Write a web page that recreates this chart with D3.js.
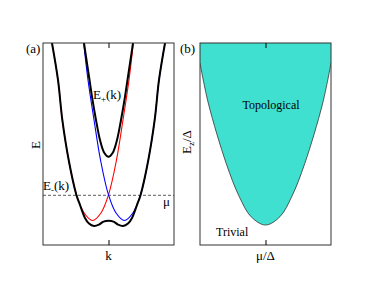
<!DOCTYPE html>
<html>
<head>
<meta charset="utf-8">
<script src="https://cdn.jsdelivr.net/npm/d3@7"></script>
<style>
  body { margin: 0; background: #fff; }
  text { font-family: "Liberation Serif", "DejaVu Serif", serif; fill: #000; }
</style>
</head>
<body>
<div class="chart"></div>
<script>
// panel (a): band dispersion (k, E)
var redBand = [[-0.863,10.0],[-0.771,8.17],[-0.705,6.19],[-0.608,4.21],[-0.489,2.48],
  [-0.369,1.57],[-0.244,1.21],[-0.118,1.57],[0,2.48],[0.122,4.21],[0.221,6.19],[0.313,8.17],[0.379,10.0]];
var blueBand = [[-0.379,10.0],[-0.313,8.17],[-0.221,6.19],[-0.122,4.21],[0,2.48],
  [0.118,1.57],[0.244,1.21],[0.369,1.57],[0.489,2.48],[0.608,4.21],[0.705,6.19],[0.771,8.17],[0.863,10.0]];
var lowerBand = [[-0.863,10.0],[-0.771,8.17],[-0.705,6.19],[-0.608,4.21],[-0.49,2.48],[-0.435,1.98],
  [-0.359,1.34],[-0.298,1.06],[-0.221,0.94],[-0.145,1.01],[-0.076,1.16],[0,1.20],
  [0.076,1.16],[0.145,1.01],[0.221,0.94],[0.298,1.06],[0.359,1.34],[0.435,1.98],[0.49,2.48],
  [0.608,4.21],[0.705,6.19],[0.771,8.17],[0.863,10.0]];
var upperBand = [[-0.374,10.0],[-0.336,9.16],[-0.290,8.17],[-0.244,7.18],[-0.191,6.19],[-0.130,5.20],
  [-0.065,4.57],[0,4.37],[0.065,4.57],[0.130,5.20],[0.191,6.19],[0.244,7.18],[0.290,8.17],[0.336,9.16],[0.374,10.0]];
var mu = 2.46;

// panel (b): phase boundary (mu/Delta, Ez/Delta)
var boundary = [[-1.0,9.0],[-0.87,6.98],[-0.60,4.04],[-0.40,2.39],[-0.22,1.40],[0,0.99],
  [0.22,1.40],[0.40,2.39],[0.60,4.04],[0.87,6.98],[1.0,9.0]];

var svg = d3.select('.chart').append('svg')
  .attr('width', 374)
  .attr('height', 289);

var panelW = 131, panelH = 202, panelTop = 43;

var makePanel = function(left, id){
  var x = d3.scaleLinear().domain([-1, 1]).range([left, left + panelW]);
  var y = d3.scaleLinear().domain([0, 10]).range([panelTop + panelH, panelTop]);
  svg.append('clipPath').attr('id', id)
    .append('rect')
    .attr('x', left).attr('y', panelTop)
    .attr('width', panelW).attr('height', panelH);
  var g = svg.append('g').attr('clip-path', 'url(#' + id + ')');
  return {x: x, y: y, g: g, left: left};
};

var drawFrame = function(p){
  svg.append('rect')
    .attr('x', p.left).attr('y', panelTop)
    .attr('width', panelW).attr('height', panelH)
    .attr('fill', 'none')
    .attr('stroke', '#333')
    .attr('stroke-width', 1);
  var bottomAxis = d3.axisBottom(p.x).tickValues([0]).tickSize(-5).tickFormat('');
  var topAxis = d3.axisTop(p.x).tickValues([0]).tickSize(-5).tickFormat('');
  svg.append('g').attr('transform', 'translate(0,' + (panelTop + panelH) + ')').call(bottomAxis)
    .select('.domain').remove();
  svg.append('g').attr('transform', 'translate(0,' + panelTop + ')').call(topAxis)
    .select('.domain').remove();
};

// (a)
var a = makePanel(43, 'clipA');
var lineA = d3.line()
  .x(function(d) { return a.x(d[0]); })
  .y(function(d) { return a.y(d[1]); })
  .curve(d3.curveCatmullRom);

a.g.append('line')
  .attr('x1', a.x(-1)).attr('x2', a.x(1))
  .attr('y1', a.y(mu)).attr('y2', a.y(mu))
  .attr('stroke', '#333').attr('stroke-width', 0.8)
  .attr('stroke-dasharray', '3,2');

a.g.append('path').datum(redBand).attr('d', lineA)
  .attr('fill', 'none').attr('stroke', '#ff0000').attr('stroke-width', 1.1);
a.g.append('path').datum(blueBand).attr('d', lineA)
  .attr('fill', 'none').attr('stroke', '#0000ff').attr('stroke-width', 1.1);
a.g.append('path').datum(lowerBand).attr('d', lineA)
  .attr('fill', 'none').attr('stroke', '#000').attr('stroke-width', 2);
a.g.append('path').datum(upperBand).attr('d', lineA)
  .attr('fill', 'none').attr('stroke', '#000').attr('stroke-width', 2);
drawFrame(a);

// (b)
var b = makePanel(200, 'clipB');
var areaB = d3.area()
  .x(function(d) { return b.x(d[0]); })
  .y0(b.y(10))
  .y1(function(d) { return b.y(d[1]); })
  .curve(d3.curveCatmullRom);
var lineB = d3.line()
  .x(function(d) { return b.x(d[0]); })
  .y(function(d) { return b.y(d[1]); })
  .curve(d3.curveCatmullRom);

b.g.append('path').datum(boundary).attr('d', areaB)
  .attr('fill', '#40e0d0');
b.g.append('path').datum(boundary).attr('d', lineB)
  .attr('fill', 'none').attr('stroke', '#333').attr('stroke-width', 0.8);
drawFrame(b);

// labels
var label = function(x, y, txt, size, anchor){
  return svg.append('text')
    .attr('x', x).attr('y', y)
    .attr('font-size', size)
    .attr('text-anchor', anchor || 'start')
    .text(txt);
};

label(26, 53, '(a)', 13);
label(180, 53, '(b)', 13);
label(108.5, 260, 'k', 13, 'middle');
label(265.5, 260, 'μ/Δ', 13, 'middle');
label(163, 206, 'μ', 13);
label(271, 109, 'Topological', 12, 'middle');
label(216, 236, 'Trivial', 12);

svg.append('text')
  .attr('transform', 'translate(40,145) rotate(-90)')
  .attr('font-size', 13).attr('text-anchor', 'middle')
  .text('E');

var ez = svg.append('text')
  .attr('transform', 'translate(191,142) rotate(-90)')
  .attr('font-size', 13).attr('text-anchor', 'middle');
ez.append('tspan').text('E');
ez.append('tspan').attr('font-size', 9).attr('dy', 3).text('z');
ez.append('tspan').attr('dy', -3).text('/Δ');

var ep = svg.append('text').attr('x', 93).attr('y', 99).attr('font-size', 13);
ep.append('tspan').text('E');
ep.append('tspan').attr('font-size', 9).attr('dy', 3).text('+');
ep.append('tspan').attr('dy', -3).text('(k)');

var em = svg.append('text').attr('x', 43).attr('y', 190).attr('font-size', 13);
em.append('tspan').text('E');
em.append('tspan').attr('font-size', 9).attr('dy', 3).text('-');
em.append('tspan').attr('dy', -3).text('(k)');
</script>
</body>
</html>
